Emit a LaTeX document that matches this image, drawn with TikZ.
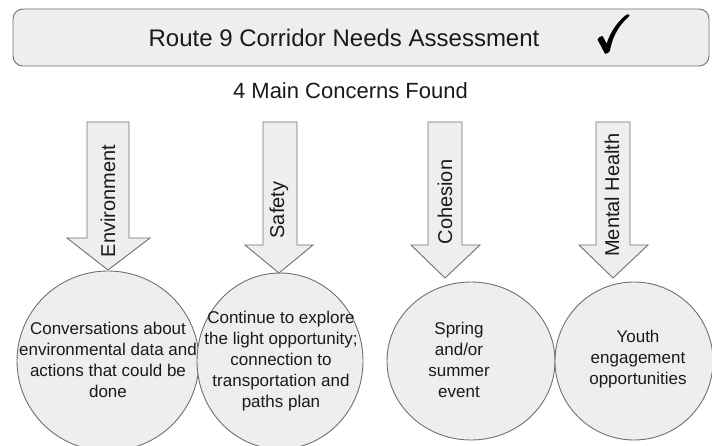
\documentclass[tikz,border=0pt]{standalone}
\usepackage{amssymb}
\usepackage{fontspec}
\setmainfont{Liberation Sans}
\usetikzlibrary{shapes.geometric}
\definecolor{boxfill}{HTML}{EEEEEE}
\definecolor{boxline}{HTML}{707070}
\definecolor{txt}{HTML}{1A1A1A}
\newcommand{\heavycheck}{\special{pdf:literal 2 Tr 1.6 w}$\checkmark$\special{pdf:literal 0 Tr}}
\tikzset{
  shapebox/.style={fill=boxfill, draw=boxline, line width=0.9pt},
  bubble/.style={shapebox, ellipse, inner sep=0pt},
  bubbletext/.style={align=center, text=txt, font=\fontsize{17}{21}\selectfont},
  armlabel/.style={rotate=90, text=txt, font=\fontsize{20}{24}\selectfont},
}
\begin{document}
\begin{tikzpicture}[x=1pt, y=-1pt]
\useasboundingbox (0,0) rectangle (712,446);
% title
\node[shapebox, rounded corners=10pt, minimum width=696pt, minimum height=57pt, inner sep=0pt] (title) at (361,37.5) {};
\node[anchor=base, text=txt, font=\fontsize{24}{28}\selectfont] (titletext) at (344,47) {Route 9 Corridor Needs Assessment};
\node[text=black, inner sep=0pt, yscale=1.15, font=\fontsize{45}{45}\selectfont] (check) at (613.5,33.5) {\heavycheck};
\node[anchor=base, text=txt, font=\fontsize{22}{26}\selectfont] (sub) at (350.5,99) {4 Main Concerns Found};
% circles
\node[bubble, minimum width=182pt, minimum height=180pt] (c1) at (108,361) {};
\node[bubble, minimum width=166pt, minimum height=176pt] (c2) at (280,361) {};
\node[bubble, minimum width=168pt, minimum height=158pt] (c3) at (471,361) {};
\node[bubble, minimum width=158pt, minimum height=158pt] (c4) at (634,361) {};
% arrows
\draw[shapebox] (87,122) -- (129,122) -- (129,238) -- (150,238) -- (108,270) -- (67,238) -- (87,238) -- cycle;
\draw[shapebox] (263,122) -- (297,122) -- (297,245) -- (313,245) -- (279,273) -- (245,245) -- (263,245) -- cycle;
\draw[shapebox] (428,122) -- (462,122) -- (462,245) -- (480,245) -- (445,278) -- (411,245) -- (428,245) -- cycle;
\draw[shapebox] (596,122) -- (630,122) -- (630,245) -- (648,245) -- (613,278) -- (579,245) -- (596,245) -- cycle;
\node[armlabel] (l1) at (108,201) {Environment};
\node[armlabel] (l2) at (279,210) {Safety};
\node[armlabel] (l3) at (445,202) {Cohesion};
\node[armlabel] (l4) at (612,195) {Mental Health};
% texts
\node[bubbletext] (t1) at (108,360) {Conversations about\\environmental data and\\actions that could be\\done};
\node[bubbletext] (t2) at (281,361) {Continue to explore\\the light opportunity;\\connection to\\transportation and\\paths plan};
\node[bubbletext] (t3) at (459,360) {Spring\\and/or\\summer\\event};
\node[bubbletext] (t4) at (638,359) {Youth\\engagement\\opportunities};
\end{tikzpicture}
\end{document}
